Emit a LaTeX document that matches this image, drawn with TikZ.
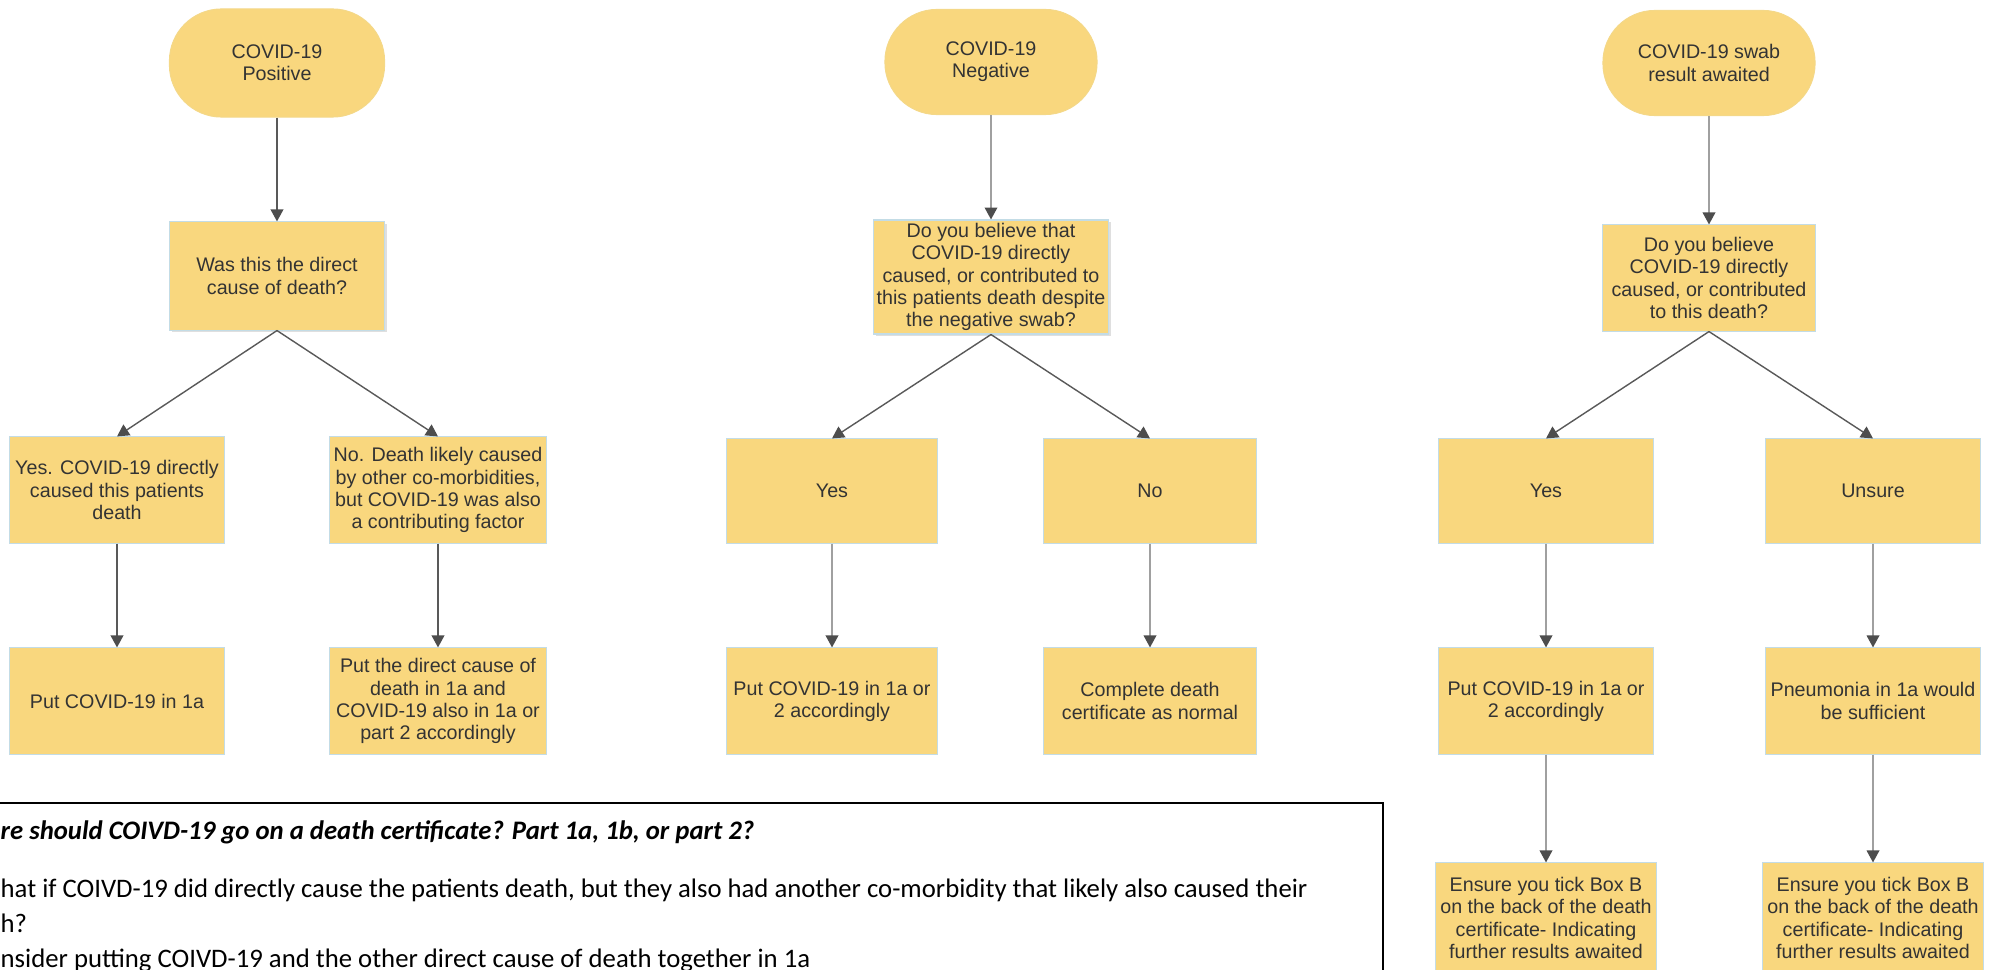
\documentclass[tikz,border=0pt]{standalone}
\usepackage{fontspec}
\setmainfont{Liberation Sans}
\newfontfamily\notefont{Carlito}
\usepackage{xcolor}
\usetikzlibrary{arrows.meta,positioning,shadows}
\definecolor{boxfill}{HTML}{F9D77E}
\definecolor{boxedge}{HTML}{C3DCE6}
\definecolor{boxtext}{HTML}{333333}
\definecolor{flowdark}{HTML}{595959}
\definecolor{flowlight}{HTML}{A0A0A0}
\definecolor{tipcol}{HTML}{4D4D4D}

\begin{document}
\begin{tikzpicture}[x=0.01cm,y=-0.01cm,
    box/.style={draw=boxedge,fill=boxfill,line width=0.3pt,align=center,text=boxtext,
      inner sep=1pt,minimum width=2.14cm,minimum height=1.06cm,
      font=\fontsize{5.6pt}{6.3pt}\selectfont},
    start/.style={box,draw=boxfill!90!boxedge,rounded corners=0.52cm},
    question/.style={box,drop shadow={shadow xshift=0.7pt,shadow yshift=-0.7pt,opacity=0.25}},
    flow/.style={draw=flowdark,line width=0.4pt,-{Triangle[length=3.4pt,width=3.6pt,color=tipcol]}},
    flowlight/.style={flow,draw=flowlight},
    notetext/.style={anchor=base west,inner sep=0pt,font=\notefont\fontsize{7.6pt}{10pt}\selectfont}]
  \useasboundingbox (0,0) rectangle (1993,970);

  % positive swab
  \node[start,minimum width=2.15cm,minimum height=1.08cm] (positive) at (277,63) {COVID-19\\Positive};
  \node[question,minimum width=2.15cm,minimum height=1.08cm] (wasdirect) at (277,276) {Was this the direct\\cause of death?};
  \node[box] (yesdirect) at (117,490) {Yes. COVID-19 directly\\caused this patients\\death};
  \node[box,minimum width=2.16cm] (nocomorb) at (438,490) {No. Death likely caused\\by other co-morbidities,\\but COVID-19 was also\\a contributing factor};
  \node[box] (putone) at (117,701) {Put COVID-19 in 1a};
  \node[box,minimum width=2.16cm] (putdirect) at (438,701) {Put the direct cause of\\death in 1a and\\COVID-19 also in 1a or\\part 2 accordingly};

  % negative swab
  \node[start,minimum width=2.12cm,minimum height=1.05cm] (negative) at (991,62) {COVID-19\\Negative};
  \node[question,minimum width=2.32cm,minimum height=1.12cm] (believeneg) at (991,277) {Do you believe that\\COVID-19 directly\\caused, or contributed to\\this patients death despite\\the negative swab?};
  \node[box,minimum width=2.11cm,minimum height=1.04cm] (yesneg) at (832,491) {Yes};
  \node[box,minimum width=2.12cm,minimum height=1.04cm] (noneg) at (1150,491) {No};
  \node[box,minimum width=2.11cm] (putneg) at (832,701) {Put COVID-19 in 1a or\\2 accordingly};
  \node[box,minimum width=2.12cm] (completecert) at (1150,701) {Complete death\\certificate as normal};

  % swab awaited
  \node[start,minimum width=2.12cm,minimum height=1.05cm] (awaited) at (1709,63) {COVID-19 swab\\result awaited};
  \node[box,minimum width=2.12cm,minimum height=1.06cm] (believeawait) at (1709,278) {Do you believe\\COVID-19 directly\\caused, or contributed\\to this death?};
  \node[box,minimum height=1.04cm] (yesawait) at (1546,491) {Yes};
  \node[box,minimum width=2.15cm,minimum height=1.04cm] (unsure) at (1873,491) {Unsure};
  \node[box] (putawait) at (1546,701) {Put COVID-19 in 1a or\\2 accordingly};
  \node[box,minimum width=2.15cm] (pneumonia) at (1873,701) {Pneumonia in 1a would\\be sufficient};
  \node[box,minimum width=2.2cm,minimum height=1.1cm] (tickyes) at (1546,918) {Ensure you tick Box B\\on the back of the death\\certificate- Indicating\\further results awaited};
  \node[box,minimum width=2.2cm,minimum height=1.1cm] (tickunsure) at (1873,918) {Ensure you tick Box B\\on the back of the death\\certificate- Indicating\\further results awaited};

  \draw[flow] (positive) -- (wasdirect);
  \draw[flow] (wasdirect.south) -- (yesdirect.north);
  \draw[flow] (wasdirect.south) -- (nocomorb.north);
  \draw[flow] (yesdirect) -- (putone);
  \draw[flow] (nocomorb) -- (putdirect);

  \draw[flowlight] (negative) -- (believeneg);
  \draw[flow] (believeneg.south) -- (yesneg.north);
  \draw[flow] (believeneg.south) -- (noneg.north);
  \draw[flowlight] (yesneg) -- (putneg);
  \draw[flowlight] (noneg) -- (completecert);

  \draw[flowlight] (awaited) -- (believeawait);
  \draw[flow] (believeawait.south) -- (yesawait.north);
  \draw[flow] (believeawait.south) -- (unsure.north);
  \draw[flowlight] (yesawait) -- (putawait);
  \draw[flowlight] (unsure) -- (pneumonia);
  \draw[flowlight] (putawait) -- (tickyes);
  \draw[flowlight] (pneumonia) -- (tickunsure);

  % note on where COVID-19 goes
  \draw[line width=0.45pt] (-20,803) rectangle (1383,1020);
  \node[notetext,font=\notefont\bfseries\itshape\fontsize{7.6pt}{10pt}\selectfont] (notewhere) at (0,839) {re should COIVD-19 go on a death certificate? Part 1a, 1b, or part 2?};
  \node[notetext] (notewhat) at (0,897) {hat if COIVD-19 did directly cause the patients death, but they also had another co-morbidity that likely also caused their};
  \node[notetext] (notedeath) at (0,932) {h?};
  \node[notetext] (noteconsider) at (0,967) {nsider putting COIVD-19 and the other direct cause of death together in 1a};
\end{tikzpicture}
\end{document}
